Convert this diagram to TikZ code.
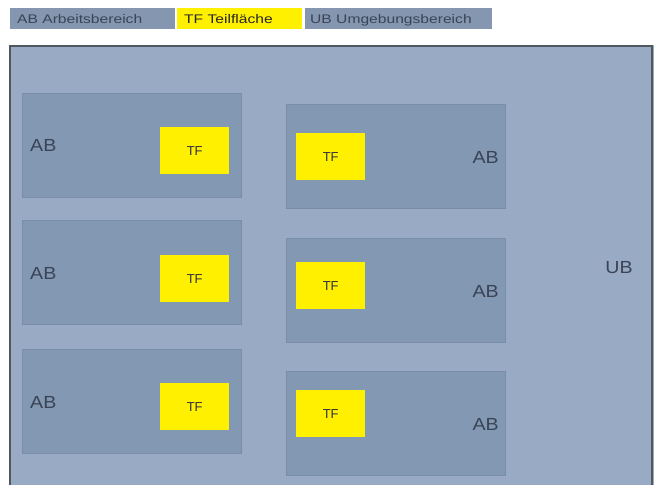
\documentclass[tikz,border=0pt]{standalone}
\usepackage{fontspec}
\setmainfont{Liberation Sans}
\usetikzlibrary{positioning}

\definecolor{ubfill}{HTML}{99AAC5}
\definecolor{abfill}{HTML}{8298B3}
\definecolor{abline}{HTML}{7A8DA8}
\definecolor{legfill}{HTML}{8597B0}
\definecolor{tffill}{HTML}{FFF000}
\definecolor{frameline}{HTML}{50575F}
\definecolor{labtext}{HTML}{3A4455}

\newcommand{\stretchtext}[2]{\scalebox{#1}[1]{#2}}

\tikzset{
	legbox/.style={rectangle, fill=legfill, inner sep=0pt, anchor=north west, minimum height=21pt},
	legtext/.style={font=\fontsize{12.5}{14}\selectfont, text=labtext, inner sep=0pt, text height=9pt, text depth=2.5pt, anchor=west, yshift=-1.3pt},
	abbox/.style={rectangle, draw=abline, line width=0.8pt, fill=abfill, inner sep=0pt, anchor=north west, minimum width=219pt, minimum height=104pt},
	tfbox/.style={rectangle, fill=tffill, inner sep=0pt, anchor=north west, minimum width=69pt, minimum height=47pt, font=\fontsize{13}{15}\selectfont, text=black!80},
	ablabel/.style={font=\fontsize{17.5}{20}\selectfont, text=labtext, inner sep=0pt},
}

\begin{document}
\begin{tikzpicture}[x=1pt,y=-1pt]
	\useasboundingbox (0,0) rectangle (654,485);
	
	% Draw the legend
	\node[legbox, minimum width=165pt] (legab) at (10,8) {};
	\node[legbox, minimum width=125pt, fill=tffill] (legtf) at (177,8) {};
	\node[legbox, minimum width=187pt] (legub) at (305,8) {};
	\node[legtext] (legabtext) at ([xshift=7pt]legab.west) {\stretchtext{1.25}{AB Arbeitsbereich}};
	\node[legtext, text=black!85] (legtftext) at ([xshift=7pt]legtf.west) {\stretchtext{1.25}{TF Teilfläche}};
	\node[legtext] (legubtext) at ([xshift=5pt]legub.west) {\stretchtext{1.25}{UB Umgebungsbereich}};
	
	% Draw the surrounding area (UB)
	\fill[ubfill] (9,45) rectangle (654,485);
	\draw[frameline, line width=1.6pt] (9.8,486) -- (9.8,45.8) -- (652.2,45.8) -- (652.2,486);
	\node[ablabel] (ub) at (619,268) {\stretchtext{1.12}{UB}};
	
	% Draw the left column of working areas
	\node[abbox] (ab1) at (22,93) {};
	\node[abbox] (ab2) at (22,220) {};
	\node[abbox] (ab3) at (22,349) {};
	
	% Draw the right column of working areas
	\node[abbox] (ab4) at (286,104) {};
	\node[abbox] (ab5) at (286,238) {};
	\node[abbox] (ab6) at (286,371) {};
	
	% Draw the partial areas
	\node[tfbox] (tf1) at (160,127) {TF};
	\node[tfbox] (tf2) at (160,255) {TF};
	\node[tfbox] (tf3) at (160,383) {TF};
	\node[tfbox] (tf4) at (296,133) {TF};
	\node[tfbox] (tf5) at (296,262) {TF};
	\node[tfbox] (tf6) at (296,390) {TF};
	
	% Label the working areas
	\node[ablabel, anchor=west] (lab1) at (30,145) {\stretchtext{1.12}{AB}};
	\node[ablabel, anchor=west] (lab2) at (30,273) {\stretchtext{1.12}{AB}};
	\node[ablabel, anchor=west] (lab3) at (30,402) {\stretchtext{1.12}{AB}};
	\node[ablabel, anchor=east] (lab4) at (499,157) {\stretchtext{1.12}{AB}};
	\node[ablabel, anchor=east] (lab5) at (499,291) {\stretchtext{1.12}{AB}};
	\node[ablabel, anchor=east] (lab6) at (499,424) {\stretchtext{1.12}{AB}};
	
\end{tikzpicture}
\end{document}
